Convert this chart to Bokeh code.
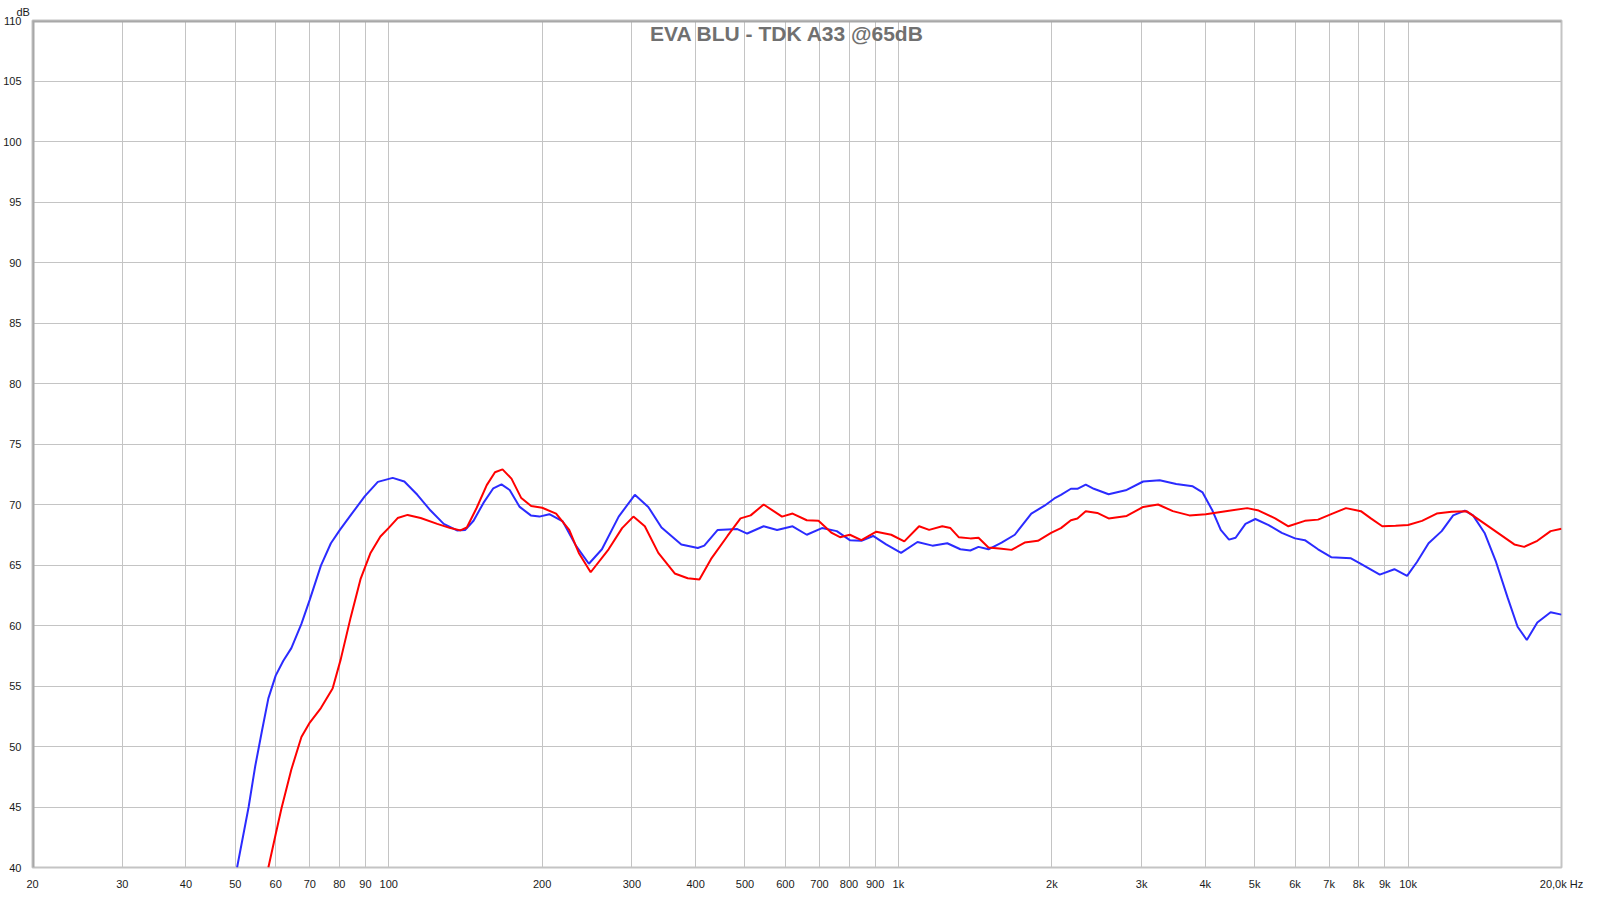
from bokeh.embed import file_html
from bokeh.models import ColumnDataSource, FixedTicker, Label, Range1d, Span, Title
from bokeh.plotting import figure
from bokeh.resources import INLINE

# Data - frequency response (Hz, dB)
blue_freq = [
    50.4, 53.1, 54.7, 56.4, 58.05, 60, 62.07, 64.4, 67.4, 70, 73.6, 77.0, 80.2, 84.5, 89.7,
    95.2, 101.8, 107.3, 113.8, 120.8, 128.2, 136.1, 141.3, 146.7, 153.4, 160.4, 166.4,
    172.7, 180.7, 190, 197.5, 206.6, 219.5, 232.9, 247, 262, 282.6,
    304, 323, 342.9, 375, 404, 416, 442, 483, 505, 544, 578, 620, 661, 708, 757, 803, 846,
    892, 946, 1012, 1090, 1166, 1247, 1323, 1384, 1436, 1502, 1594, 1692, 1823, 1935, 2023,
    2084, 2180, 2245, 2331, 2418, 2585, 2805, 3022, 3256, 3508, 3780, 3952, 4132, 4290,
    4453, 4588, 4797, 5016, 5326, 5652, 6000, 6273, 6658, 7066, 7727, 8080, 8800, 9400,
    9955, 10410, 10970, 11640, 12260, 12920, 13410, 14130, 14880, 15680, 16400, 17100,
    17930, 19040, 20000,
]
blue_db = [
    40.0, 45.0, 48.37, 51.3, 53.98, 55.86, 57.06, 58.13, 60.13, 62.14, 64.95, 66.8, 67.9, 69.2, 70.67,
    71.87, 72.2, 71.9, 70.8, 69.5, 68.4, 67.86, 67.9, 68.66, 70.13, 71.34, 71.66,
    71.2, 69.8, 69.1, 69.0, 69.2, 68.6, 66.6, 65.1, 66.3, 69.0,
    70.8, 69.8, 68.1, 66.7, 66.4, 66.6, 67.9, 67.97, 67.6, 68.2, 67.9, 68.2, 67.5, 68.05, 67.8, 67.05, 67.0,
    67.4, 66.7, 66.0, 66.9, 66.6, 66.8, 66.3, 66.2, 66.5, 66.3, 66.85, 67.5, 69.25, 69.9, 70.5,
    70.8, 71.3, 71.3, 71.65, 71.3, 70.85, 71.2, 71.9, 72.0, 71.7, 71.5, 71.0, 69.5, 67.9,
    67.1, 67.25, 68.4, 68.8, 68.3, 67.65, 67.2, 67.05, 66.3, 65.65, 65.55, 65.1, 64.2, 64.65,
    64.1, 65.25, 66.8, 67.8, 69.1, 69.5, 69.1, 67.65, 65.25, 62.3, 59.9, 58.8,
    60.25, 61.1, 60.9,
]

red_freq = [
    58.05, 60, 61.6, 64.4, 67.4, 70, 73.6, 77.6, 80.5, 84.2, 88.1, 92.1, 96.3, 100, 104.1,
    108.9, 115.5, 124.5, 132.1, 138.2, 142.3, 148.8, 155.7, 161.6, 167.2, 174.1, 182, 190.3,
    200, 213, 226, 236, 249, 270, 287, 302, 318,
    338, 364, 386, 407, 429, 462, 490, 513, 544, 591, 620, 661, 697, 740, 768, 803, 846,
    905, 968, 1027, 1098, 1149, 1219, 1265, 1313, 1384, 1436, 1502, 1594, 1667, 1769, 1878,
    1993, 2084, 2180, 2245, 2331, 2456, 2585, 2805, 3022, 3232, 3455, 3723, 4011, 4387,
    4834, 5092, 5485, 5823, 6273, 6658, 7066, 7554, 8080, 8452, 8900, 9449, 10000, 10650,
    11380, 12170, 13020, 13920, 15000, 16160, 16900, 17930, 19040, 20000,
]
red_db = [
    40.0, 42.75, 44.9, 48.1, 50.78, 51.98, 53.18, 54.79, 57.2, 60.67, 63.88, 66.0, 67.35, 68.07, 68.88,
    69.14, 68.88, 68.4, 68.05, 67.86, 68.1, 69.73, 71.6, 72.67, 72.9, 72.14, 70.53, 69.87,
    69.73, 69.25, 67.9, 66.0, 64.4, 66.3, 68.05, 69.0, 68.2,
    66.0, 64.3, 63.9, 63.8, 65.5, 67.4, 68.85, 69.1, 70.0, 69.0, 69.25, 68.7, 68.65, 67.65, 67.3, 67.5, 67.05,
    67.75, 67.5, 66.95, 68.2, 67.9, 68.2, 68.05, 67.3, 67.2, 67.25, 66.45, 66.35, 66.25, 66.85, 67.0,
    67.65, 68.05, 68.7, 68.85, 69.45, 69.3, 68.85, 69.05, 69.8, 70.0, 69.45, 69.1, 69.2, 69.45,
    69.7, 69.5, 68.85, 68.2, 68.65, 68.75, 69.2, 69.7, 69.45, 68.85, 68.2, 68.25, 68.3, 68.65,
    69.25, 69.4, 69.45, 68.6, 67.65, 66.7, 66.5, 67.0, 67.8, 68.0,
]

# Axis ticks and labels
x_ticks = [20, 30, 40, 50, 60, 70, 80, 90, 100, 200, 300, 400, 500, 600, 700, 800, 900,
           1000, 2000, 3000, 4000, 5000, 6000, 7000, 8000, 9000, 10000, 20000]
x_labels = ["20", "30", "40", "50", "60", "70", "80", "90", "100", "200", "300", "400", "500",
            "600", "700", "800", "900", "1k", "2k", "3k", "4k", "5k", "6k", "7k", "8k", "9k",
            "10k", "20,0k Hz"]
y_ticks = [40, 45, 50, 55, 60, 65, 70, 75, 80, 85, 90, 95, 100, 105, 110]

title_text = "EVA BLU - TDK A33 @65dB"
font = "Liberation Sans"

p = figure(
    width=1584,
    height=892,
    x_axis_type="log",
    x_range=Range1d(20, 20000),
    y_range=Range1d(40, 110),
    output_backend="svg",
    toolbar_location=None,
    min_border_left=30,
    min_border_right=23,
    min_border_top=18,
    min_border_bottom=14,
)
p.background_fill_color = "white"
p.border_fill_color = "white"
p.outline_line_color = "#c4c4c4"
p.outline_line_width = 2

# Grid (no lines between 10k and 20k, borders at 20 / 20k)
p.xgrid.ticker = FixedTicker(ticks=x_ticks[1:-1])
p.ygrid.ticker = FixedTicker(ticks=y_ticks[1:-1])
p.xgrid.grid_line_color = "#c4c4c4"
p.ygrid.grid_line_color = "#c4c4c4"

# Axes
p.xaxis.ticker = FixedTicker(ticks=x_ticks)
p.xaxis.major_label_overrides = {t: lab for t, lab in zip(x_ticks, x_labels)}
p.yaxis.ticker = FixedTicker(ticks=y_ticks)
for ax in (p.xaxis, p.yaxis):
    ax.axis_line_color = None
    ax.major_tick_line_color = None
    ax.minor_tick_line_color = None
    ax.major_label_text_font = font
    ax.major_label_text_font_size = "11px"
    ax.major_label_text_color = "#1a1a1a"
p.xaxis.major_label_standoff = 4
p.yaxis.major_label_standoff = 5

# Unit label above the y axis
p.add_layout(Title(text="dB", align="left", offset=-16, standoff=6, text_font=font,
                   text_font_size="11px", text_font_style="normal", text_color="#1a1a1a"),
             "above")

# Thick inset border on the left and top
p.add_layout(Span(location=20, dimension="height", line_color="#a8a8a8", line_width=4))
p.add_layout(Span(location=110, dimension="width", line_color="#a8a8a8", line_width=4))

# Curves
p.line(x="f", y="db", source=ColumnDataSource(data={"f": blue_freq, "db": blue_db}),
       line_color="#2b2bff", line_width=2)
p.line(x="f", y="db", source=ColumnDataSource(data={"f": red_freq, "db": red_db}),
       line_color="#ff0000", line_width=2)

# Chart title inside the frame
p.add_layout(Label(x=605, y=110, y_offset=-1, text=title_text, text_align="center",
                   text_baseline="top", text_font=font, text_font_style="bold",
                   text_font_size="21px", text_color="#707070"))

open("out.html", "w").write(file_html(p, INLINE))
